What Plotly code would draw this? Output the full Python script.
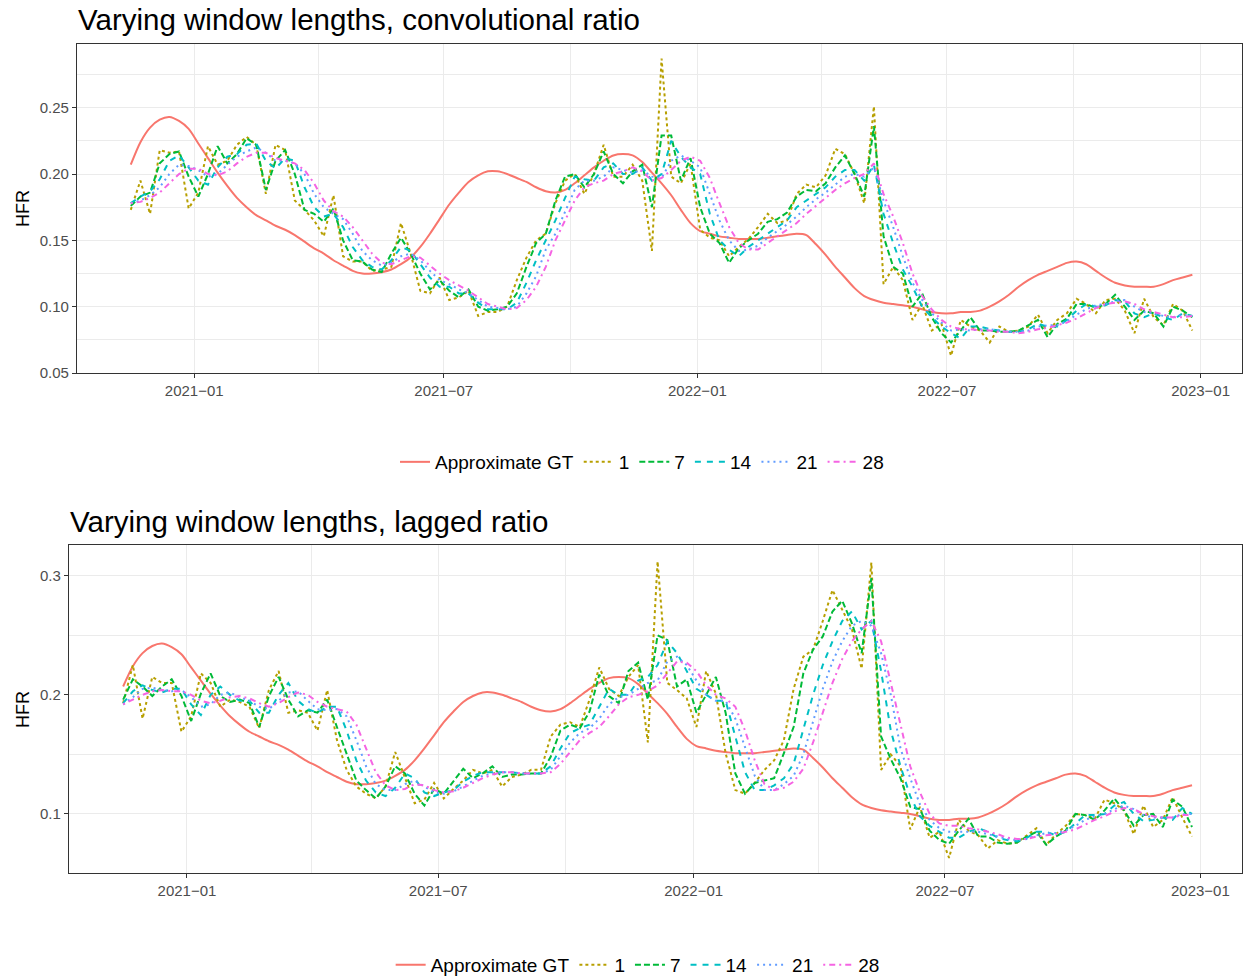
import pandas as pd
import plotly.graph_objects as go

# ---------------- data ----------------
dates = pd.date_range("2020-11-16", periods=111, freq="7D")

series_names = ["Approximate GT", "1", "7", "14", "21", "28"]

gt = [0.207, 0.224, 0.235, 0.241, 0.243, 0.240, 0.234, 0.223, 0.212, 0.201,
      0.191, 0.182, 0.175, 0.169, 0.165, 0.161, 0.158, 0.154, 0.149, 0.144,
      0.140, 0.135, 0.131, 0.127, 0.125, 0.125, 0.126, 0.128, 0.132, 0.137,
      0.145, 0.155, 0.166, 0.177, 0.186, 0.194, 0.199, 0.202, 0.202, 0.200,
      0.197, 0.194, 0.190, 0.187, 0.186, 0.188, 0.193, 0.199, 0.205, 0.210,
      0.214, 0.215, 0.214, 0.209, 0.201, 0.193, 0.184, 0.173, 0.163, 0.157,
      0.155, 0.153, 0.152, 0.151, 0.151, 0.151, 0.152, 0.153, 0.154, 0.155,
      0.154, 0.147, 0.139, 0.130, 0.122, 0.114, 0.108, 0.105, 0.103, 0.102,
      0.101, 0.100, 0.098, 0.096, 0.095, 0.095, 0.096, 0.096, 0.097, 0.100,
      0.104, 0.109, 0.115, 0.120, 0.124, 0.127, 0.130, 0.133, 0.134, 0.132,
      0.127, 0.122, 0.118, 0.116, 0.115, 0.115, 0.115, 0.117, 0.120, 0.122, 0.124]

# ---- convolutional ratio ----
conv_w1 = [0.173, 0.195, 0.170, 0.218, 0.216, 0.217, 0.174, 0.186, 0.221, 0.207,
           0.210, 0.222, 0.228, 0.222, 0.185, 0.222, 0.218, 0.180, 0.173, 0.165,
           0.153, 0.184, 0.138, 0.134, 0.134, 0.127, 0.128, 0.130, 0.163, 0.140,
           0.112, 0.110, 0.122, 0.105, 0.107, 0.112, 0.093, 0.096, 0.096, 0.100,
           0.120, 0.137, 0.150, 0.155, 0.178, 0.195, 0.200, 0.185, 0.200, 0.222,
           0.198, 0.198, 0.207, 0.195, 0.142, 0.287, 0.198, 0.193, 0.208, 0.158,
           0.152, 0.150, 0.138, 0.145, 0.151, 0.160, 0.170, 0.163, 0.165, 0.185,
           0.192, 0.190, 0.199, 0.219, 0.215, 0.200, 0.178, 0.251, 0.117, 0.130,
           0.120, 0.090, 0.102, 0.082, 0.087, 0.063, 0.090, 0.085, 0.082, 0.073,
           0.085, 0.081, 0.082, 0.085, 0.094, 0.080, 0.090, 0.095, 0.106, 0.102,
           0.095, 0.105, 0.106, 0.097, 0.080, 0.106, 0.092, 0.086, 0.102, 0.097, 0.082]

conv_w7 = [0.176, 0.183, 0.186, 0.208, 0.215, 0.217, 0.198, 0.183, 0.200, 0.221,
           0.208, 0.215, 0.227, 0.222, 0.188, 0.210, 0.218, 0.200, 0.173, 0.170,
           0.164, 0.174, 0.150, 0.135, 0.134, 0.128, 0.126, 0.140, 0.152, 0.140,
           0.125, 0.113, 0.120, 0.112, 0.107, 0.113, 0.100, 0.097, 0.098, 0.100,
           0.110, 0.130, 0.148, 0.155, 0.180, 0.198, 0.200, 0.190, 0.200, 0.217,
           0.200, 0.193, 0.202, 0.207, 0.175, 0.229, 0.229, 0.195, 0.212, 0.175,
           0.155, 0.148, 0.133, 0.144, 0.150, 0.155, 0.164, 0.166, 0.171, 0.183,
           0.188, 0.187, 0.193, 0.205, 0.214, 0.200, 0.183, 0.236, 0.153, 0.130,
           0.125, 0.100, 0.110, 0.092, 0.080, 0.073, 0.082, 0.092, 0.082, 0.082,
           0.081, 0.081, 0.082, 0.086, 0.090, 0.077, 0.087, 0.091, 0.102, 0.102,
           0.099, 0.102, 0.109, 0.100, 0.090, 0.097, 0.095, 0.085, 0.100, 0.097, 0.092]

conv_w14 = [0.178, 0.183, 0.187, 0.196, 0.210, 0.214, 0.205, 0.195, 0.192, 0.205,
            0.213, 0.215, 0.222, 0.223, 0.210, 0.204, 0.212, 0.210, 0.190, 0.175,
            0.168, 0.170, 0.160, 0.145, 0.135, 0.130, 0.128, 0.135, 0.145, 0.142,
            0.132, 0.122, 0.115, 0.115, 0.110, 0.110, 0.103, 0.098, 0.098, 0.098,
            0.103, 0.118, 0.135, 0.150, 0.165, 0.182, 0.198, 0.196, 0.195, 0.205,
            0.208, 0.200, 0.200, 0.205, 0.195, 0.200, 0.225, 0.213, 0.205, 0.200,
            0.170, 0.150, 0.143, 0.138, 0.145, 0.150, 0.155, 0.160, 0.165, 0.175,
            0.180, 0.185, 0.190, 0.198, 0.203, 0.203, 0.195, 0.207, 0.170, 0.148,
            0.128, 0.115, 0.100, 0.092, 0.085, 0.080, 0.076, 0.085, 0.085, 0.083,
            0.082, 0.081, 0.081, 0.083, 0.087, 0.085, 0.085, 0.090, 0.097, 0.102,
            0.100, 0.101, 0.105, 0.104, 0.095, 0.092, 0.095, 0.092, 0.090, 0.095, 0.093]

conv_w21 = [0.178, 0.180, 0.184, 0.190, 0.200, 0.207, 0.206, 0.203, 0.198, 0.200,
            0.207, 0.213, 0.217, 0.220, 0.216, 0.210, 0.210, 0.208, 0.200, 0.185,
            0.175, 0.170, 0.166, 0.155, 0.142, 0.135, 0.131, 0.133, 0.138, 0.140,
            0.135, 0.127, 0.120, 0.117, 0.113, 0.110, 0.105, 0.100, 0.099, 0.098,
            0.100, 0.110, 0.123, 0.143, 0.155, 0.172, 0.188, 0.195, 0.195, 0.198,
            0.205, 0.203, 0.201, 0.203, 0.198, 0.197, 0.210, 0.214, 0.210, 0.205,
            0.185, 0.165, 0.150, 0.142, 0.143, 0.146, 0.152, 0.157, 0.162, 0.168,
            0.175, 0.181, 0.186, 0.192, 0.198, 0.200, 0.198, 0.205, 0.180, 0.160,
            0.138, 0.118, 0.105, 0.095, 0.088, 0.082, 0.083, 0.082, 0.083, 0.083,
            0.082, 0.081, 0.081, 0.082, 0.085, 0.086, 0.086, 0.089, 0.094, 0.098,
            0.101, 0.102, 0.104, 0.105, 0.100, 0.096, 0.095, 0.093, 0.092, 0.094, 0.093]

conv_w28 = [0.178, 0.179, 0.182, 0.186, 0.193, 0.200, 0.204, 0.204, 0.200, 0.199,
            0.202, 0.208, 0.213, 0.216, 0.216, 0.212, 0.210, 0.208, 0.203, 0.193,
            0.180, 0.172, 0.168, 0.160, 0.150, 0.140, 0.133, 0.132, 0.135, 0.138,
            0.137, 0.131, 0.125, 0.120, 0.116, 0.112, 0.107, 0.102, 0.100, 0.098,
            0.099, 0.105, 0.115, 0.130, 0.150, 0.165, 0.180, 0.190, 0.193, 0.195,
            0.200, 0.202, 0.205, 0.202, 0.195, 0.197, 0.203, 0.210, 0.213, 0.210,
            0.197, 0.178, 0.160, 0.148, 0.143, 0.143, 0.148, 0.153, 0.158, 0.163,
            0.170, 0.176, 0.182, 0.188, 0.193, 0.197, 0.200, 0.208, 0.185, 0.168,
            0.148, 0.125, 0.108, 0.098, 0.090, 0.085, 0.083, 0.083, 0.082, 0.082,
            0.081, 0.081, 0.080, 0.081, 0.083, 0.084, 0.086, 0.088, 0.091, 0.095,
            0.099, 0.102, 0.103, 0.104, 0.102, 0.098, 0.096, 0.094, 0.092, 0.092, 0.093]

# ---- lagged ratio ----
lag_w1 = [0.193, 0.225, 0.180, 0.215, 0.210, 0.210, 0.169, 0.182, 0.218, 0.210,
          0.190, 0.196, 0.194, 0.190, 0.172, 0.204, 0.220, 0.185, 0.187, 0.185,
          0.170, 0.204, 0.162, 0.137, 0.123, 0.117, 0.113, 0.123, 0.152, 0.131,
          0.109, 0.112, 0.126, 0.113, 0.121, 0.128, 0.137, 0.134, 0.137, 0.123,
          0.131, 0.133, 0.137, 0.137, 0.165, 0.175, 0.177, 0.173, 0.196, 0.223,
          0.205, 0.199, 0.215, 0.225, 0.160, 0.312, 0.210, 0.204, 0.197, 0.173,
          0.220, 0.201, 0.151, 0.120, 0.117, 0.126, 0.137, 0.145, 0.162, 0.205,
          0.232, 0.238, 0.262, 0.288, 0.272, 0.255, 0.222, 0.311, 0.137, 0.150,
          0.140, 0.087, 0.106, 0.080, 0.085, 0.063, 0.095, 0.086, 0.082, 0.071,
          0.078, 0.075, 0.076, 0.082, 0.088, 0.074, 0.083, 0.090, 0.100, 0.099,
          0.096, 0.112, 0.109, 0.103, 0.083, 0.107, 0.089, 0.095, 0.114, 0.097, 0.081]

lag_w7 = [0.196, 0.213, 0.207, 0.199, 0.207, 0.213, 0.199, 0.178, 0.201, 0.218,
          0.199, 0.194, 0.196, 0.193, 0.173, 0.199, 0.215, 0.196, 0.182, 0.187,
          0.185, 0.196, 0.173, 0.151, 0.128, 0.120, 0.113, 0.123, 0.140, 0.134,
          0.117, 0.107, 0.121, 0.117, 0.128, 0.138, 0.130, 0.134, 0.140, 0.131,
          0.133, 0.133, 0.134, 0.134, 0.148, 0.170, 0.175, 0.172, 0.186, 0.217,
          0.199, 0.193, 0.220, 0.227, 0.196, 0.250, 0.246, 0.207, 0.213, 0.185,
          0.200, 0.215, 0.185, 0.134, 0.117, 0.126, 0.128, 0.130, 0.151, 0.173,
          0.218, 0.238, 0.249, 0.270, 0.279, 0.260, 0.235, 0.298, 0.165, 0.146,
          0.130, 0.106, 0.104, 0.086, 0.078, 0.075, 0.086, 0.096, 0.081, 0.081,
          0.076, 0.075, 0.076, 0.081, 0.085, 0.074, 0.081, 0.086, 0.100, 0.099,
          0.095, 0.103, 0.113, 0.103, 0.090, 0.099, 0.100, 0.089, 0.112, 0.106, 0.089]

lag_w14 = [0.193, 0.203, 0.208, 0.204, 0.202, 0.205, 0.205, 0.192, 0.183, 0.200,
           0.207, 0.200, 0.195, 0.195, 0.185, 0.185, 0.200, 0.210, 0.195, 0.188,
           0.185, 0.190, 0.190, 0.170, 0.145, 0.128, 0.118, 0.115, 0.122, 0.134,
           0.130, 0.118, 0.115, 0.118, 0.120, 0.127, 0.132, 0.135, 0.135, 0.135,
           0.135, 0.134, 0.134, 0.134, 0.140, 0.155, 0.168, 0.172, 0.175, 0.190,
           0.205, 0.200, 0.200, 0.212, 0.215, 0.225, 0.245, 0.235, 0.220, 0.205,
           0.200, 0.195, 0.195, 0.165, 0.135, 0.120, 0.120, 0.124, 0.130, 0.142,
           0.170, 0.200, 0.225, 0.245, 0.262, 0.270, 0.255, 0.262, 0.220, 0.170,
           0.140, 0.115, 0.098, 0.090, 0.085, 0.080, 0.080, 0.085, 0.088, 0.085,
           0.080, 0.078, 0.077, 0.080, 0.085, 0.085, 0.082, 0.085, 0.092, 0.099,
           0.099, 0.100, 0.107, 0.110, 0.100, 0.094, 0.095, 0.097, 0.095, 0.105, 0.100]

lag_w21 = [0.192, 0.198, 0.205, 0.206, 0.204, 0.203, 0.204, 0.198, 0.190, 0.192,
           0.200, 0.202, 0.198, 0.195, 0.190, 0.188, 0.195, 0.202, 0.203, 0.195,
           0.188, 0.187, 0.188, 0.182, 0.162, 0.140, 0.125, 0.120, 0.120, 0.125,
           0.128, 0.123, 0.118, 0.117, 0.119, 0.123, 0.128, 0.132, 0.134, 0.135,
           0.135, 0.134, 0.134, 0.134, 0.137, 0.148, 0.160, 0.168, 0.172, 0.180,
           0.192, 0.198, 0.200, 0.205, 0.210, 0.212, 0.228, 0.232, 0.225, 0.212,
           0.200, 0.195, 0.195, 0.180, 0.155, 0.132, 0.120, 0.120, 0.125, 0.132,
           0.150, 0.178, 0.205, 0.228, 0.245, 0.258, 0.262, 0.258, 0.235, 0.200,
           0.155, 0.130, 0.108, 0.095, 0.088, 0.085, 0.085, 0.085, 0.085, 0.083,
           0.081, 0.079, 0.078, 0.079, 0.082, 0.084, 0.084, 0.086, 0.090, 0.095,
           0.098, 0.100, 0.104, 0.107, 0.104, 0.099, 0.097, 0.097, 0.097, 0.100, 0.100]

lag_w28 = [0.192, 0.196, 0.200, 0.203, 0.204, 0.203, 0.203, 0.200, 0.195, 0.193,
           0.195, 0.198, 0.199, 0.197, 0.193, 0.190, 0.193, 0.198, 0.202, 0.200,
           0.194, 0.190, 0.188, 0.186, 0.175, 0.155, 0.135, 0.124, 0.120, 0.121,
           0.125, 0.124, 0.120, 0.118, 0.119, 0.122, 0.126, 0.130, 0.133, 0.135,
           0.135, 0.134, 0.134, 0.134, 0.135, 0.142, 0.152, 0.162, 0.168, 0.173,
           0.182, 0.192, 0.198, 0.200, 0.203, 0.208, 0.218, 0.228, 0.227, 0.220,
           0.208, 0.200, 0.197, 0.190, 0.170, 0.145, 0.125, 0.120, 0.122, 0.127,
           0.138, 0.160, 0.185, 0.210, 0.230, 0.245, 0.255, 0.262, 0.245, 0.210,
           0.175, 0.140, 0.118, 0.100, 0.092, 0.090, 0.090, 0.088, 0.087, 0.085,
           0.083, 0.080, 0.079, 0.079, 0.081, 0.082, 0.083, 0.085, 0.087, 0.091,
           0.095, 0.098, 0.102, 0.105, 0.104, 0.100, 0.098, 0.097, 0.097, 0.099, 0.099]

x_ticks = ["2021-01-01", "2021-07-01", "2022-01-01", "2022-07-01", "2023-01-01"]
x_tick_labels = ["2021\u221201", "2021\u221207", "2022\u221201", "2022\u221207", "2023\u221201"]
x_minor = ["2021-04-01", "2021-10-01", "2022-04-01", "2022-10-01"]

top_y_ticks = [0.05, 0.10, 0.15, 0.20, 0.25]
top_y_labels = ["0.05", "0.10", "0.15", "0.20", "0.25"]
top_y_minor = [0.075, 0.125, 0.175, 0.225, 0.275]
bot_y_ticks = [0.1, 0.2, 0.3]
bot_y_labels = ["0.1", "0.2", "0.3"]
bot_y_minor = [0.15, 0.25]

titles = ["Varying window lengths, convolutional ratio", "Varying window lengths, lagged ratio"]

# ---------------- styling ----------------
colors = ["#F8766D", "#B79F00", "#00BA38", "#00BFC4", "#619CFF", "#F564E3"]
dashes = ["solid", "3px,3px", "6px,3px", "6px,6px", "2px,4px", "2px,4px,6px,4px"]
FONT = "Liberation Sans, Arial, Helvetica, sans-serif"

W, H = 1243, 978
fig = go.Figure()

panels = [
    ([gt, conv_w1, conv_w7, conv_w14, conv_w21, conv_w28], "x", "y", "legend"),
    ([gt, lag_w1, lag_w7, lag_w14, lag_w21, lag_w28], "x2", "y2", "legend2"),
]
for data, xa, ya, lg in panels:
    for name, vals, col, dsh in zip(series_names, data, colors, dashes):
        fig.add_trace(go.Scatter(
            x=dates, y=vals, mode="lines", name=name,
            line=dict(color=col, width=2, dash=dsh,
                      shape="spline" if name == "Approximate GT" else "linear",
                      smoothing=0.8),
            xaxis=xa, yaxis=ya, legend=lg, hoverinfo="skip",
        ))

def px_x(p):
    return p / W

def px_y(p):
    return 1 - p / H

grid = "#EBEBEB"
frame = "#333333"
common_x = dict(
    type="date", range=["2020-10-08", "2023-01-31"],
    tickmode="array", tickvals=x_ticks, ticktext=x_tick_labels,
    ticks="outside", ticklen=4, tickwidth=1, tickcolor=frame,
    showline=True, mirror=True, linecolor=frame, linewidth=1.2,
    showgrid=True, gridcolor=grid, gridwidth=1.1, zeroline=False,
    tickfont=dict(family=FONT, size=15, color="#4D4D4D"),
    minor=dict(tickmode="array", tickvals=x_minor, showgrid=True, gridcolor=grid, gridwidth=0.6, ticks=""),
)
common_y = dict(
    tickmode="array", ticks="outside", ticklen=4, tickwidth=1, tickcolor=frame,
    showline=True, mirror=True, linecolor=frame, linewidth=1.2,
    showgrid=True, gridcolor=grid, gridwidth=1.1, zeroline=False,
    tickfont=dict(family=FONT, size=15, color="#4D4D4D"),
)

fig.update_layout(
    width=W, height=H,
    margin=dict(l=0, r=0, t=0, b=0, autoexpand=False),
    paper_bgcolor="white", plot_bgcolor="white",
    font=dict(family=FONT, color="black"),
    xaxis=dict(common_x, domain=[px_x(77), px_x(1242)], anchor="y"),
    yaxis=dict(common_y, domain=[px_y(373), px_y(44)], anchor="x",
               range=[0.05, 0.298], tickvals=top_y_ticks, ticktext=top_y_labels,
               minor=dict(tickmode="array", tickvals=top_y_minor, showgrid=True,
                          gridcolor=grid, gridwidth=0.6, ticks="")),
    xaxis2=dict(common_x, domain=[px_x(69), px_x(1242)], anchor="y2"),
    yaxis2=dict(common_y, domain=[px_y(873), px_y(545)], anchor="x2",
                range=[0.0504, 0.3258], tickvals=bot_y_ticks, ticktext=bot_y_labels,
                minor=dict(tickmode="array", tickvals=bot_y_minor, showgrid=True,
                           gridcolor=grid, gridwidth=0.6, ticks="")),
    legend=dict(orientation="h", x=0.5165, xanchor="center", y=px_y(462), yanchor="middle",
                font=dict(family=FONT, size=19, color="black"), bgcolor="rgba(0,0,0,0)",
                itemwidth=30),
    legend2=dict(orientation="h", x=0.513, xanchor="center", y=px_y(965), yanchor="middle",
                 font=dict(family=FONT, size=19, color="black"), bgcolor="rgba(0,0,0,0)",
                 itemwidth=30),
    showlegend=True,
)

annotations = [
    dict(text=titles[0], x=px_x(76), y=px_y(19), xref="paper", yref="paper",
         xanchor="left", yanchor="middle", showarrow=False,
         font=dict(family=FONT, size=29.5, color="black")),
    dict(text=titles[1], x=px_x(68), y=px_y(521), xref="paper", yref="paper",
         xanchor="left", yanchor="middle", showarrow=False,
         font=dict(family=FONT, size=29.5, color="black")),
    dict(text="HFR", x=px_x(23), y=px_y(209), xref="paper", yref="paper",
         xanchor="center", yanchor="middle", showarrow=False, textangle=-90,
         font=dict(family=FONT, size=18, color="black")),
    dict(text="HFR", x=px_x(23), y=px_y(710), xref="paper", yref="paper",
         xanchor="center", yanchor="middle", showarrow=False, textangle=-90,
         font=dict(family=FONT, size=18, color="black")),
]
fig.update_layout(annotations=annotations)

fig.write_html(
    "out.html",
    config={"displayModeBar": False},
    post_script="document.body.style.margin='0';document.body.style.overflow='hidden';",
)
